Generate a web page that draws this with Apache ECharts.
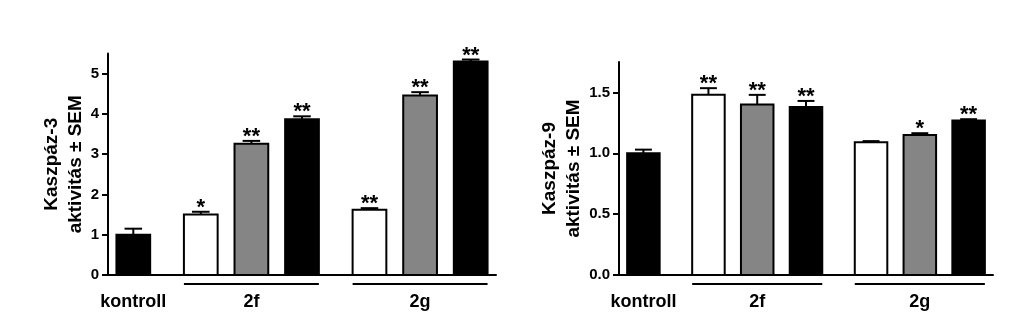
<!DOCTYPE html>
<html>
<head>
<meta charset="utf-8">
<script src="https://cdn.jsdelivr.net/npm/echarts@6/dist/echarts.min.js"></script>
<style>
  html, body { margin: 0; padding: 0; background: #ffffff; }
  #chart { width: 1024px; height: 324px; }
</style>
</head>
<body>
<div id="chart"></div>
<script>
// Groups along the x axis and how many bars each one holds
const groupLabels = ['kontroll', '2f', '2g'];
const groupSizes = [1, 3, 3];

// Caspase-3 activity (mean, SEM, significance marks)
const casp3Mean = [1.00, 1.50, 3.26, 3.87, 1.62, 4.46, 5.30];
const casp3Sem  = [0.15, 0.07, 0.07, 0.07, 0.04, 0.08, 0.05];
const casp3Sig  = ['', '*', '**', '**', '**', '**', '**'];
const casp3Ticks = [0, 1, 2, 3, 4, 5];

// Caspase-9 activity (mean, SEM, significance marks)
const casp9Mean = [1.00, 1.48, 1.40, 1.38, 1.09, 1.15, 1.27];
const casp9Sem  = [0.03, 0.055, 0.08, 0.05, 0.01, 0.015, 0.01];
const casp9Sig  = ['', '**', '**', '**', '', '*', '**'];
const casp9Ticks = [0, 0.5, 1.0, 1.5];

const casp3Title = 'Kaszpáz-3\naktivitás ± SEM';
const casp9Title = 'Kaszpáz-9\naktivitás ± SEM';

// ---- layout helpers -------------------------------------------------------
const FONT = '"Liberation Sans", Arial, Helvetica, sans-serif';
const STEP = 3;        // slot distance between bars inside a group
const GAP = 4;         // slot distance between neighbouring groups
const BAR_HALF = 1;    // half bar width in slot units
const DOSE_FILLS = ['#ffffff', '#858585', '#000000'];

const slots = [];
const fills = [];
const spans = [];
(function buildSlots() {
  let x = 0;
  groupSizes.forEach((n, g) => {
    if (g > 0) x += GAP;
    const first = x;
    for (let i = 0; i < n; i++) {
      slots.push(x);
      fills.push(g === 0 ? '#000000' : DOSE_FILLS[i]);
      if (i < n - 1) x += STEP;
    }
    spans.push([first, x, g]);
  });
})();
const X_MIN = slots[0] - 1.5;
const X_MAX = slots[slots.length - 1] + 1.5;

function barRenderer(means, sems, sigs) {
  return function (params, api) {
    const i = params.dataIndex;
    const x = api.value(0);
    const m = api.value(1);
    const e = api.value(2);
    const base = api.coord([x - BAR_HALF, 0]);
    const top = api.coord([x + BAR_HALF, m]);
    const errTop = api.coord([x, m + e]);
    const bw = top[0] - base[0];
    const cap = bw * 0.26;
    const line = { stroke: '#000', lineWidth: 2 };
    const children = [
      { type: 'line', shape: { x1: errTop[0], y1: top[1], x2: errTop[0], y2: errTop[1] }, style: line },
      { type: 'line', shape: { x1: errTop[0] - cap, y1: errTop[1], x2: errTop[0] + cap, y2: errTop[1] }, style: line },
      { type: 'rect', shape: { x: base[0], y: top[1], width: bw, height: base[1] - top[1] },
        style: { fill: fills[i], stroke: '#000', lineWidth: 2 } }
    ];
    if (sigs[i]) {
      children.push({
        type: 'text', x: errTop[0], y: errTop[1] + 7,
        style: { text: sigs[i], align: 'center', verticalAlign: 'bottom',
                 font: 'bold 22px ' + FONT, fill: '#000' }
      });
    }
    return { type: 'group', children };
  };
}

function groupRenderer(params, api) {
  const a = api.value(0), b = api.value(1), g = api.value(2);
  const left = api.coord([a - BAR_HALF, 0]);
  const right = api.coord([b + BAR_HALF, 0]);
  const mid = (left[0] + right[0]) / 2;
  const children = [];
  if (b > a) {
    children.push({ type: 'line', shape: { x1: left[0], y1: left[1] + 9, x2: right[0], y2: left[1] + 9 },
                    style: { stroke: '#000', lineWidth: 2 } });
  }
  children.push({ type: 'text', x: mid, y: left[1] + 27,
                  style: { text: groupLabels[g], align: 'center', verticalAlign: 'middle',
                           font: 'bold 18px ' + FONT, fill: '#000' } });
  return { type: 'group', children };
}

function xAxisFor(gridIndex) {
  return {
    type: 'value', gridIndex, min: X_MIN, max: X_MAX,
    axisLine: { show: true, onZero: false, lineStyle: { color: '#000', width: 2 } },
    axisTick: { show: false }, axisLabel: { show: false }, splitLine: { show: false }
  };
}

function yAxisFor(gridIndex, max, ticks, digits, title, gap) {
  return {
    type: 'value', gridIndex, min: 0, max,
    name: title, nameLocation: 'middle', nameRotate: 90, nameGap: gap, nameMoveOverlap: false,
    nameTextStyle: { fontFamily: FONT, fontWeight: 'bold', fontSize: 19, lineHeight: 24, color: '#000' },
    axisLine: { show: true, onZero: false, lineStyle: { color: '#000', width: 2 } },
    axisTick: { show: true, length: 6, customValues: ticks, lineStyle: { color: '#000', width: 2 } },
    axisLabel: { customValues: ticks, margin: 9, fontFamily: FONT, fontWeight: 'bold', fontSize: 15,
                 color: '#000', formatter: v => Number(v).toFixed(digits) },
    splitLine: { show: false }
  };
}

const chart = echarts.init(document.getElementById('chart'), null, { renderer: 'canvas' });
chart.setOption({
  animation: false,
  backgroundColor: '#ffffff',
  grid: [
    { left: 108, right: 528, top: 53.5, bottom: 49 },
    { left: 619, right: 31, top: 62, bottom: 49 }
  ],
  xAxis: [xAxisFor(0), xAxisFor(1)],
  yAxis: [
    yAxisFor(0, 5.5, casp3Ticks, 0, casp3Title, 20),
    yAxisFor(1, 1.75, casp9Ticks, 1, casp9Title, 33)
  ],
  series: [
    { type: 'custom', xAxisIndex: 0, yAxisIndex: 0, clip: false,
      data: slots.map((x, i) => [x, casp3Mean[i], casp3Sem[i]]),
      renderItem: barRenderer(casp3Mean, casp3Sem, casp3Sig) },
    { type: 'custom', xAxisIndex: 1, yAxisIndex: 1, clip: false,
      data: slots.map((x, i) => [x, casp9Mean[i], casp9Sem[i]]),
      renderItem: barRenderer(casp9Mean, casp9Sem, casp9Sig) },
    { type: 'custom', xAxisIndex: 0, yAxisIndex: 0, clip: false, data: spans, renderItem: groupRenderer },
    { type: 'custom', xAxisIndex: 1, yAxisIndex: 1, clip: false, data: spans, renderItem: groupRenderer }
  ]
});
</script>
</body>
</html>
